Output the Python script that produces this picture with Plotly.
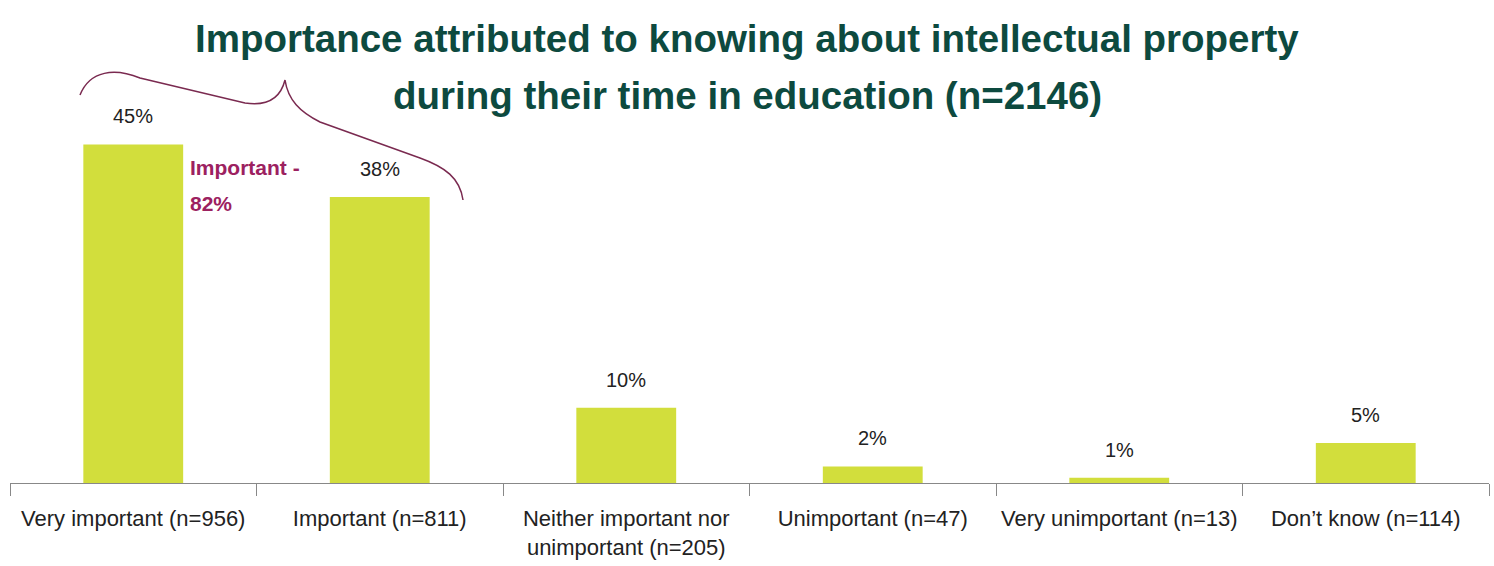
import plotly.graph_objects as go

categories = ["Very important (n=956)", "Important (n=811)",
              "Neither important nor<br>unimportant (n=205)", "Unimportant (n=47)",
              "Very unimportant (n=13)", "Don\u2019t know (n=114)"]
values = [45, 38, 10, 2.2, 0.7, 5.3]
value_labels = ["45%", "38%", "10%", "2%", "1%", "5%"]
title_lines = ["Importance attributed to knowing about intellectual property",
               "during their time in education (n=2146)"]
group_label = ["Important -", "82%"]

W, H = 1494, 566
L, R, T, B = 10, 1489, 100, 483
FONT = "Liberation Sans, Arial, sans-serif"

def px(x):
    return (x - L) / (R - L)

def py(y):
    return (B - y) / (B - T)

fig = go.Figure(go.Bar(x=categories, y=values, marker_color="#d2de3c",
                       marker_line_width=0, hoverinfo="skip"))

ann = []
for c, v, t in zip(categories, values, value_labels):
    ann.append(dict(x=c, y=v, text=t, showarrow=False, yshift=28,
                    font=dict(size=20, color="#222", family=FONT)))
for i, line in enumerate(title_lines):
    ann.append(dict(xref="paper", yref="paper", x=px(747), y=py(38 + 57 * i),
                    text="<b>" + line + "</b>", showarrow=False, xanchor="center",
                    yanchor="middle", font=dict(size=38.5, color="#0d4a3f", family=FONT)))
for i, line in enumerate(group_label):
    ann.append(dict(xref="paper", yref="paper", x=px(188), y=py(167 + 36 * i),
                    text="<b>" + line + "</b>", showarrow=False, xanchor="left",
                    yanchor="middle", font=dict(size=21, color="#9c2160", family=FONT)))

pts = [(80, 95), (90, 70), (115, 68), (140, 78), (245, 103), (265, 106), (280, 100),
       (285, 80), (288, 100), (300, 112), (320, 122), (420, 158), (445, 167),
       (460, 178), (463, 200)]
P = [f"{px(x):.5f},{py(y):.5f}" for x, y in pts]
path = (f"M {P[0]} C {P[1]} {P[2]} {P[3]} L {P[4]} C {P[5]} {P[6]} {P[7]} "
        f"C {P[8]} {P[9]} {P[10]} L {P[11]} C {P[12]} {P[13]} {P[14]}")

fig.update_layout(
    width=W, height=H,
    margin=dict(l=L, r=W - R, t=T, b=H - B),
    paper_bgcolor="white", plot_bgcolor="white",
    bargap=0.595, showlegend=False,
    font=dict(family=FONT, size=20, color="#222"),
    annotations=ann,
    shapes=[dict(type="path", xref="paper", yref="paper", path=path,
                 line=dict(color="#7a2a50", width=1.5))],
    xaxis=dict(showline=True, linecolor="#888", linewidth=1, ticks="outside",
               tickson="boundaries", ticklen=12, tickcolor="#888",
               ticklabelstandoff=16,
               tickfont=dict(size=22, family=FONT, color="#222"), showgrid=False),
    yaxis=dict(range=[0, 50.9], visible=False, showgrid=False, zeroline=False),
)
fig.write_html("out.html", config={"displayModeBar": False},
               post_script="document.body.style.margin='0px';")
